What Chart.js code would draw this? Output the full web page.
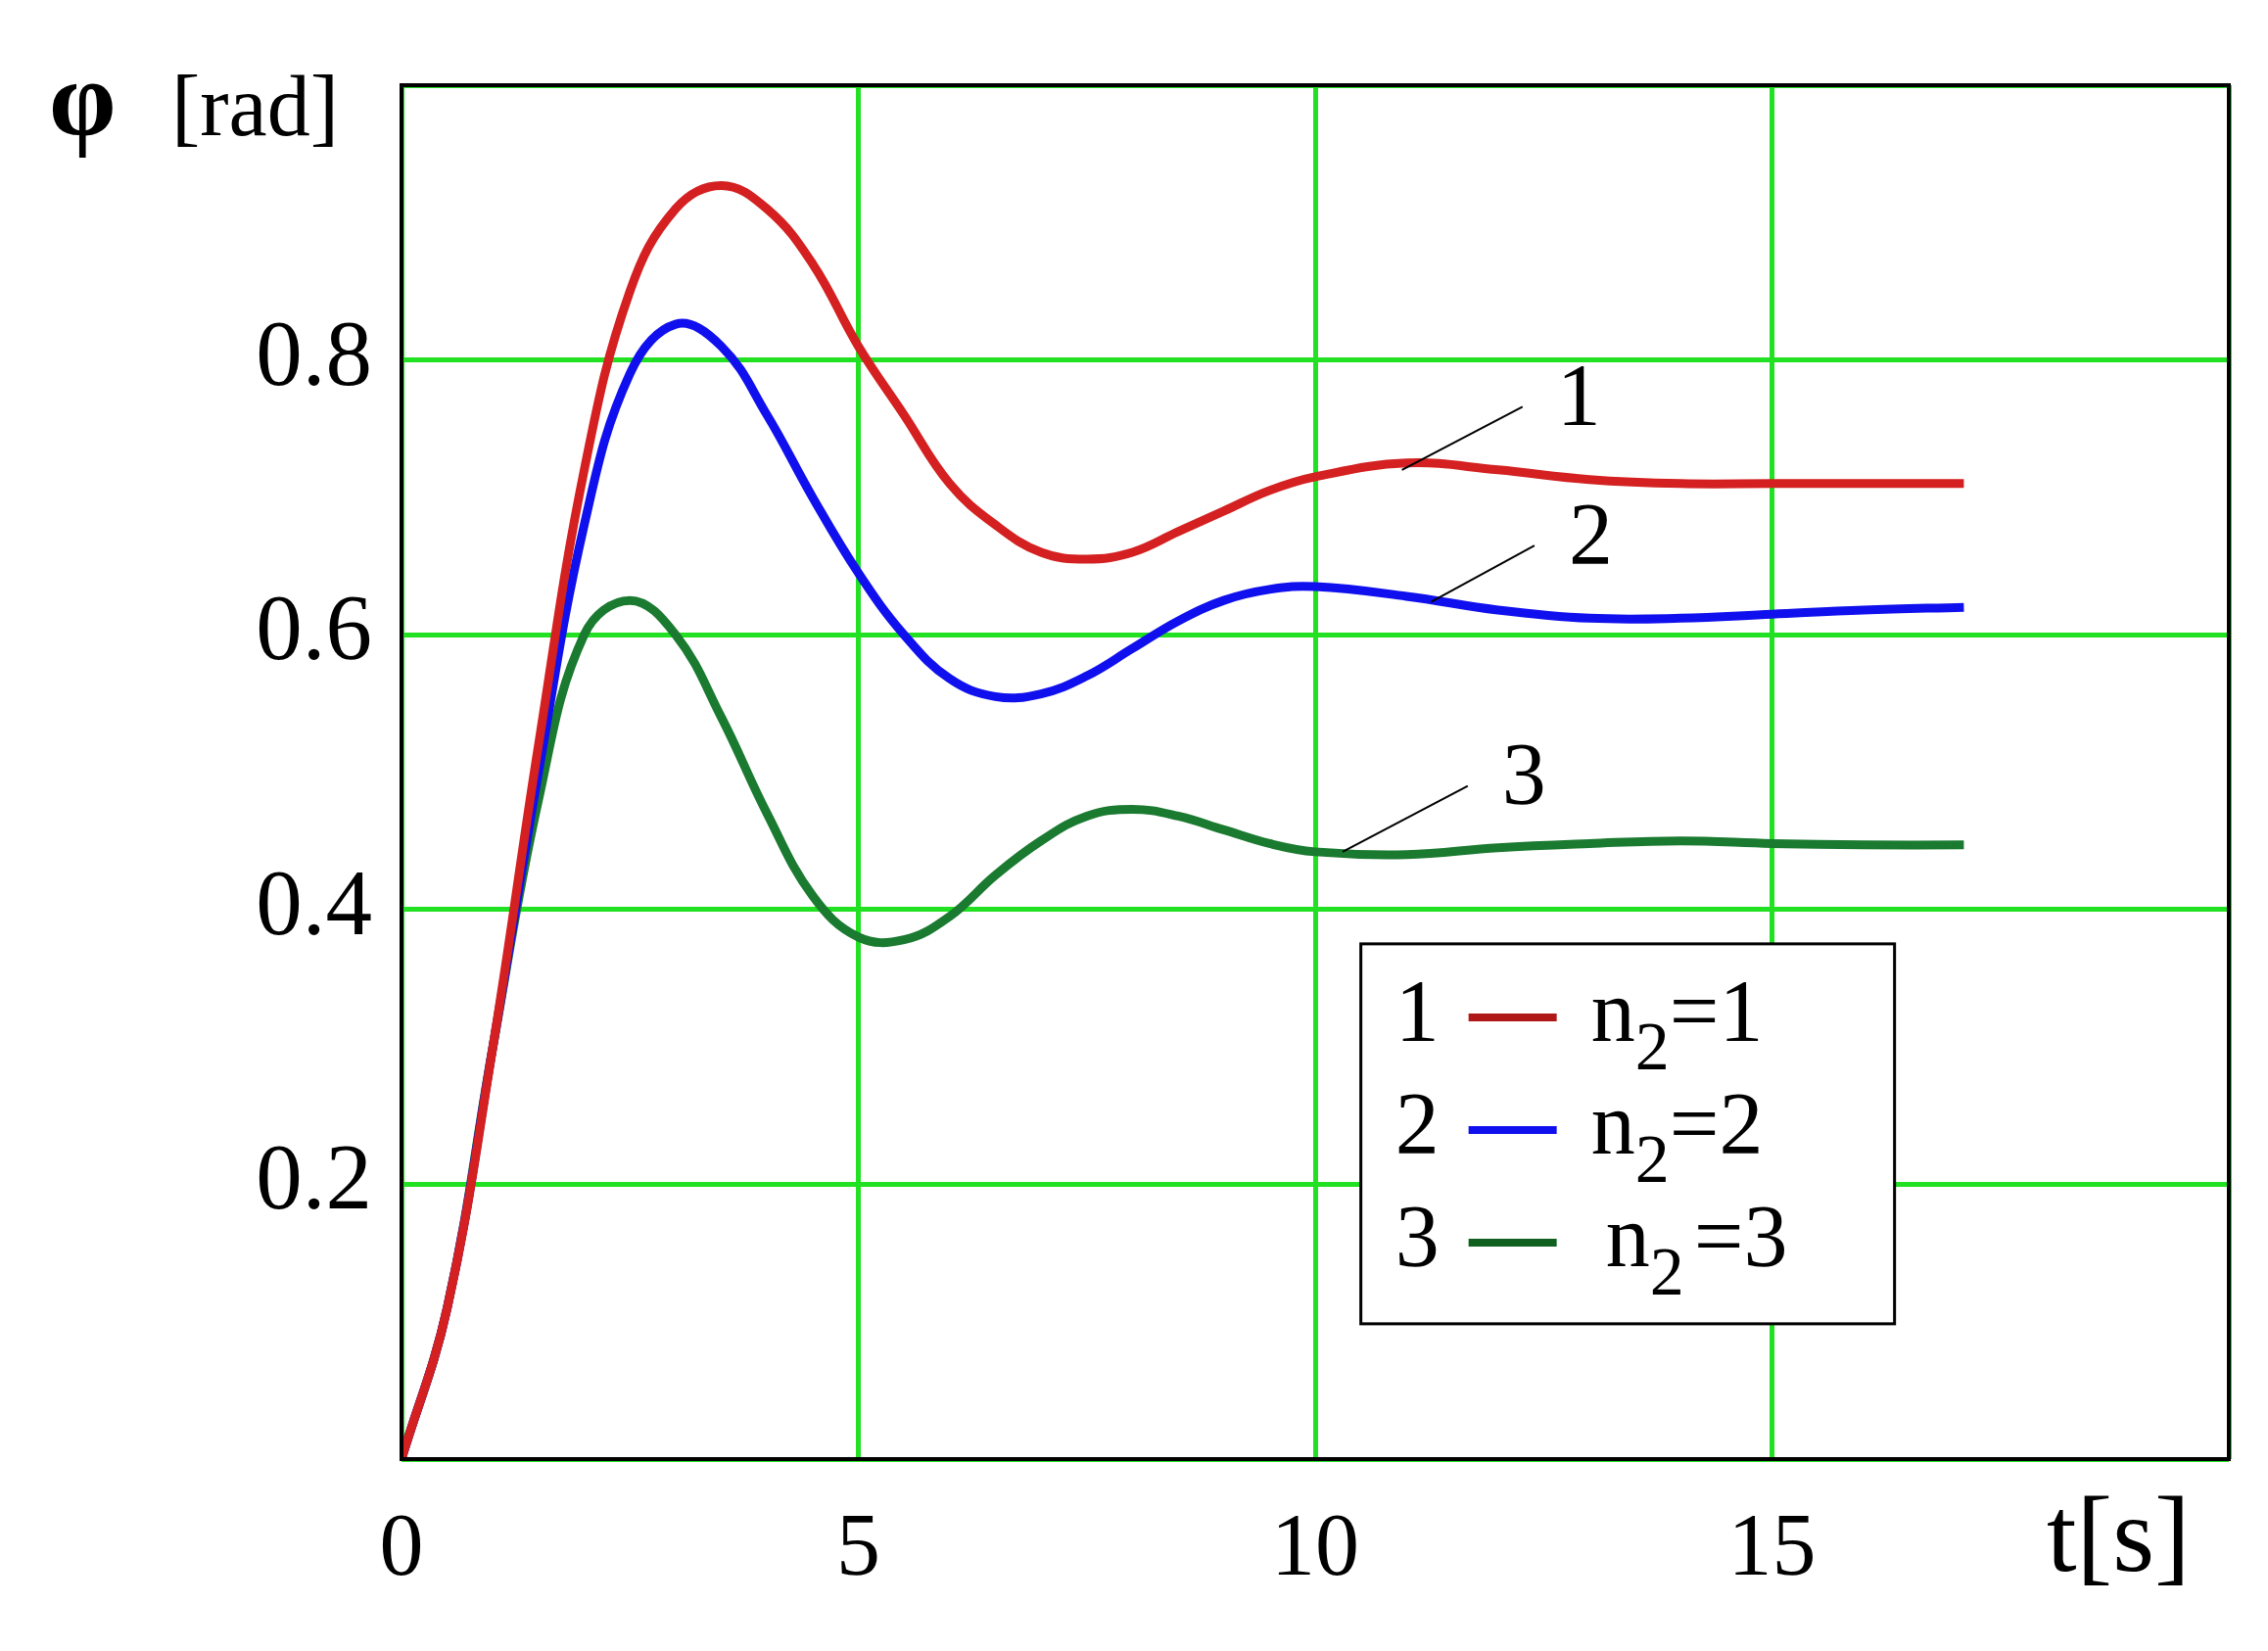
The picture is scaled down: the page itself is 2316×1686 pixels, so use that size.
<!DOCTYPE html>
<html><head><meta charset="utf-8">
<script src="https://cdn.jsdelivr.net/npm/chart.js@4"></script>
<style>html,body{margin:0;background:#fff}#wrap{width:2316px;height:1686px}</style>
</head><body><div id="wrap"><canvas id="c"></canvas></div>
<script>
var times = [0,0.5,1,1.5,2,2.5,3,3.5,4,4.5,5,5.5,6,6.5,7,7.5,8,8.5,9,9.5,10,11,12,13,14,15,16,17.1];
var phi1 = [0,0.11,0.3,0.52,0.72,0.85,0.91,0.927,0.91,0.87,0.81,0.76,0.71,0.68,0.66,0.655,0.66,0.675,0.69,0.705,0.715,0.725,0.72,0.713,0.71,0.71,0.71,0.71];
var phi2 = [0,0.11,0.3,0.5,0.68,0.79,0.826,0.81,0.76,0.7,0.645,0.6,0.568,0.555,0.557,0.57,0.59,0.61,0.625,0.633,0.635,0.628,0.618,0.612,0.612,0.615,0.618,0.62];
var phi3 = [0,0.11,0.3,0.48,0.6,0.625,0.6,0.54,0.47,0.41,0.38,0.378,0.395,0.425,0.45,0.468,0.473,0.468,0.458,0.448,0.442,0.44,0.445,0.448,0.45,0.448,0.447,0.447];
var seriesNames = ["1","2","3"];
var legendTexts = ["=1","=2","=3"];
var colors = ["#d42020","#1010ee","#1a7a30"];
var legendColors = ["#b01818","#1010ee","#106020"];
// leader lines: [t0, v0, t1, v1]
var leaders = [[10.95,0.72,12.27,0.766],[11.27,0.624,12.4,0.665],[10.3,0.442,11.67,0.49]];

function pts(v){ return times.map(function(t,i){ return {x:t, y:v[i]}; }); }

var serif = "'Liberation Serif', serif";
var deco = {
  id: 'deco',
  afterDraw: function(ch){
    var c = ch.ctx, xs = ch.scales.x, ys = ch.scales.y, a = ch.chartArea;
    c.save();
    c.strokeStyle = '#000'; c.lineWidth = 4;
    c.strokeRect(a.left, a.top, a.right - a.left, a.bottom - a.top);
    c.fillStyle = '#000'; c.font = '90px ' + serif; c.textBaseline = 'middle';
    leaders.forEach(function(l, i){
      c.lineWidth = 2; c.beginPath();
      c.moveTo(xs.getPixelForValue(l[0]), ys.getPixelForValue(l[1]));
      c.lineTo(xs.getPixelForValue(l[2]), ys.getPixelForValue(l[3]));
      c.stroke();
      c.textAlign = 'left';
      c.fillText(seriesNames[i], xs.getPixelForValue(l[2]) + 35, ys.getPixelForValue(l[3]) - 5);
    });
    // legend box
    var bx = xs.getPixelForValue(10.5), by = ys.getPixelForValue(0.375);
    var bw = 545, bh = 388;
    c.fillStyle = '#fff'; c.fillRect(bx, by, bw, bh);
    c.lineWidth = 3; c.strokeRect(bx, by, bw, bh);
    for (var i = 0; i < 3; i++) {
      var y = by + 75 + i * 115;
      c.fillStyle = '#000'; c.font = '90px ' + serif; c.textAlign = 'left';
      c.fillText(seriesNames[i], bx + 35, y);
      c.strokeStyle = legendColors[i]; c.lineWidth = 8;
      c.beginPath(); c.moveTo(bx + 110, y); c.lineTo(bx + 200, y); c.stroke();
      var tx = bx + 235 + (i === 2 ? 15 : 0);
      c.fillText('n', tx, y);
      var nw = c.measureText('n').width;
      c.font = '70px ' + serif;
      c.fillText('2', tx + nw, y + 35);
      var sw = c.measureText('2').width;
      c.font = '90px ' + serif;
      c.fillText(legendTexts[i], tx + nw + sw + (i === 2 ? 10 : 0), y);
    }
    // axis titles
    c.fillStyle = '#000'; c.textAlign = 'left';
    c.font = 'bold 110px ' + serif; c.fillText('φ', 50, 110);
    c.font = '88px ' + serif; c.fillText('[rad]', 175, 115);
    c.font = '110px ' + serif; c.fillText('t[s]', 2090, 1575);
    c.restore();
  }
};

new Chart(document.getElementById('c'), {
  type: 'line',
  data: {
    datasets: [
      {data: pts(phi1), borderColor: colors[0], borderWidth: 9, pointRadius: 0, tension: 0.4, fill: false},
      {data: pts(phi2), borderColor: colors[1], borderWidth: 9, pointRadius: 0, tension: 0.4, fill: false},
      {data: pts(phi3), borderColor: colors[2], borderWidth: 9, pointRadius: 0, tension: 0.4, fill: false}
    ]
  },
  options: {
    responsive: true, maintainAspectRatio: false, animation: false,
    layout: {padding: {top: -30, right: 33, bottom: 0, left: 0}},
    plugins: {legend: {display: false}, tooltip: {enabled: false}},
    scales: {
      x: {
        type: 'linear', min: 0, max: 20,
        grid: {color: '#22e022', lineWidth: 5, drawTicks: false},
        border: {display: false},
        afterFit: function(s){ s.height = 196; },
        ticks: {stepSize: 5, color: '#000', font: {family: serif, size: 90}, padding: 40,
          callback: function(v){ return v === 20 ? '' : String(v); }}
      },
      y: {
        min: 0, max: 1,
        grid: {color: '#22e022', lineWidth: 5, drawTicks: false},
        border: {display: false},
        afterFit: function(s){ s.width = 410; },
        ticks: {stepSize: 0.2, color: '#000', font: {family: serif, size: 95}, padding: 30,
          callback: function(v){ return (v === 0 || v === 1) ? '' : v.toFixed(1); }}
      }
    }
  },
  plugins: [deco]
});
</script></body></html>
